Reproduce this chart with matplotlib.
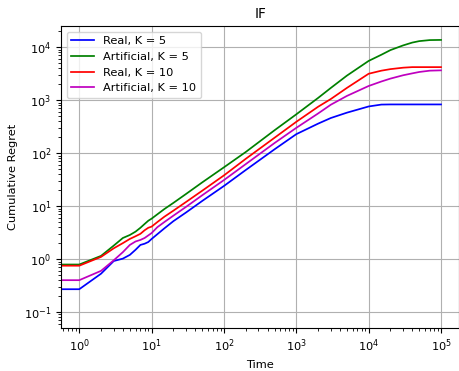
import numpy as np
import matplotlib
matplotlib.use('Agg')
import matplotlib.pyplot as plt

plt.rcParams['font.size'] = 8.2
plt.rcParams['lines.linewidth'] = 1.25

# time steps (t = 0 point keeps the flat start running to the left edge)
t = [0, 1, 2, 3, 4, 5, 6, 7, 8, 9, 10, 12, 15, 20, 30, 50, 100, 200, 500,
     1000, 2000, 3000, 5000, 10000, 15000, 20000, 30000, 40000, 50000, 70000, 100000]

real_k5 = [0.27, 0.27, 0.53, 0.92, 1.02, 1.2, 1.5, 1.85, 1.95, 2.1, 2.4, 2.95, 3.8, 5.2, 7.6,
           12.5, 24, 48, 118, 228, 360, 460, 580, 760, 825, 830, 830, 830, 830, 830, 830]
art_k5 = [0.79, 0.79, 1.15, 1.8, 2.5, 2.85, 3.3, 3.9, 4.6, 5.3, 5.8, 7.0, 8.8, 11.5, 17,
          28, 54, 105, 270, 540, 1100, 1700, 2900, 5500, 7200, 8800, 10800, 12200, 13000, 13600, 13700]
real_k10 = [0.75, 0.75, 1.1, 1.6, 2.0, 2.4, 2.7, 3.0, 3.5, 3.9, 4.1, 5.0, 6.3, 8.2, 12,
            19.5, 38, 78, 195, 390, 750, 1050, 1700, 3150, 3600, 3850, 4100, 4200, 4200, 4200, 4200]
art_k10 = [0.40, 0.40, 0.6, 0.95, 1.35, 1.85, 2.15, 2.3, 2.5, 2.8, 3.1, 4.0, 5.0, 6.6, 9.7,
           16, 31, 62, 155, 300, 560, 820, 1200, 1850, 2250, 2550, 2950, 3200, 3400, 3600, 3650]

fig = plt.figure(figsize=(4.6, 3.71), dpi=100)
ax = fig.add_axes([0.133, 0.116, 0.865, 0.814])

ax.plot(t, real_k5, color='blue', label='Real, K = 5')
ax.plot(t, art_k5, color='green', label='Artificial, K = 5')
ax.plot(t, real_k10, color='red', label='Real, K = 10')
ax.plot(t, art_k10, color='m', label='Artificial, K = 10')

ax.set_xscale('log')
ax.set_yscale('log')
ax.set_xlim(10 ** -0.25, 10 ** 5.25)
ax.set_ylim(10 ** -1.3, 10 ** 4.4)

ax.grid(True)
ax.set_title('IF')
ax.set_xlabel('Time')
ax.set_ylabel('Cumulative Regret')
ax.legend(loc='upper left')

fig.savefig('out.png', dpi=100)
